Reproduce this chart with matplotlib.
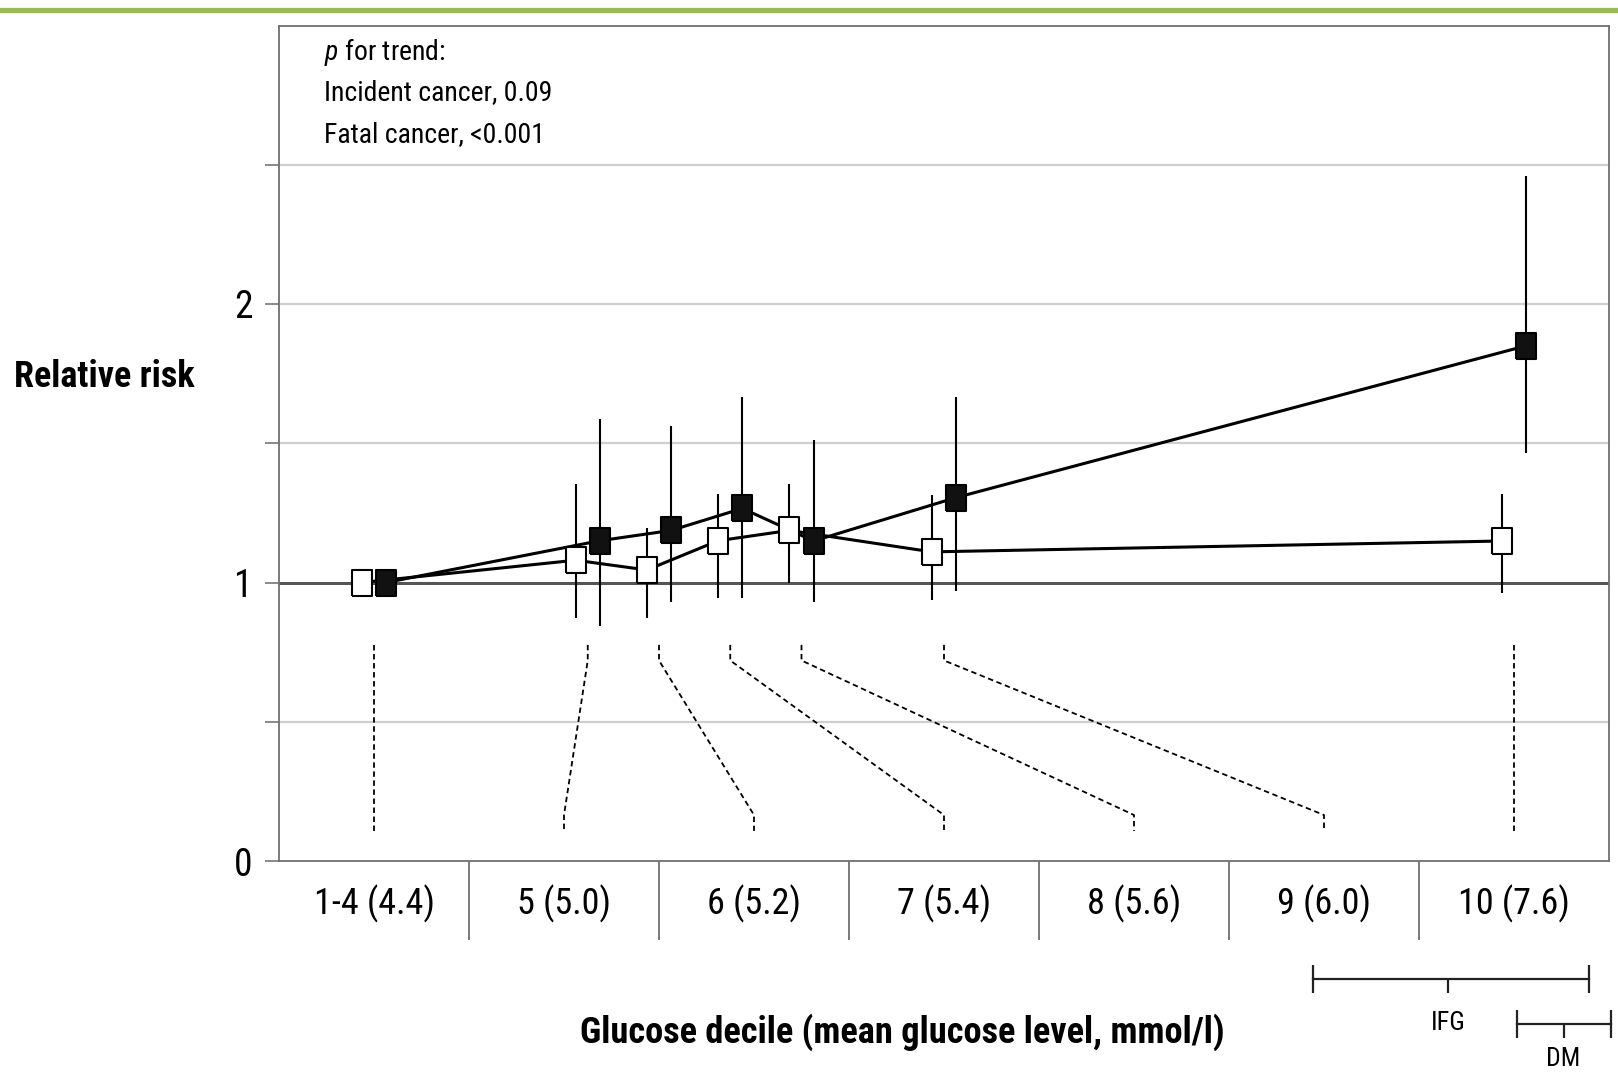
import numpy as np
import matplotlib.pyplot as plt
from matplotlib.lines import Line2D

plt.rcParams['font.family'] = ['Roboto Condensed', 'DejaVu Sans']
plt.rcParams['mathtext.fontset'] = 'custom'
plt.rcParams['mathtext.rm'] = 'Roboto Condensed'
plt.rcParams['mathtext.it'] = 'Roboto Condensed:italic'

# Data
categories = ['1-4 (4.4)', '5 (5.0)', '6 (5.2)', '7 (5.4)', '8 (5.6)', '9 (6.0)', '10 (7.6)']
glucose = np.array([4.4, 5.0, 5.2, 5.4, 5.6, 6.0, 7.6])

incident_rr = np.array([1.00, 1.08, 1.045, 1.15, 1.187, 1.11, 1.149])
incident_lo = np.array([np.nan, 0.871, 0.871, 0.943, 1.00, 0.937, 0.961])
incident_hi = np.array([np.nan, 1.354, 1.195, 1.317, 1.353, 1.314, 1.317])

fatal_rr = np.array([1.00, 1.150, 1.187, 1.266, 1.149, 1.305, 1.850])
fatal_lo = np.array([np.nan, 0.844, 0.931, 0.943, 0.931, 0.971, 1.464])
fatal_hi = np.array([np.nan, 1.586, 1.562, 1.665, 1.512, 1.665, 2.460])

# category cells below the axis
cell_w = (glucose[-1] - glucose[0]) / (len(categories) - 1)
cat_x = glucose[0] + cell_w * np.arange(len(categories))
cell_edges = cat_x[:-1] + cell_w / 2

off = 0.034
rect = [(-1, -1.3), (1, -1.3), (1, 1.3), (-1, 1.3), (-1, -1.3)]

fig = plt.figure(figsize=(16.18, 10.72), dpi=100)
ax = fig.add_axes([279 / 1618, 1 - 861 / 1072, 1330 / 1618, 835.5 / 1072])
ax.set_xlim(glucose[0] - cell_w / 2, glucose[-1] + cell_w / 2)
ax.set_ylim(0, 3)

for s in ax.spines.values():
    s.set_color('#707070')
    s.set_linewidth(1.3)

ax.set_xticks([])
ax.set_yticks([0, 0.5, 1, 1.5, 2, 2.5])
ax.set_yticklabels(['0', '', '1', '', '2', ''])
ax.tick_params(axis='y', length=10, width=1.3, color='#808080', pad=9, labelsize=27)

for yg in [0.5, 1.5, 2, 2.5]:
    ax.axhline(yg, color='#cfcfcf', lw=1.6, zorder=0)
ax.axhline(1, color='#555555', lw=2.2, zorder=1)

# connector lines from glucose positions to decile cells
for g, c in zip(glucose, cat_x):
    ax.plot([g, g, c, c], [0.776, 0.72, 0.165, 0.108], color='black', lw=1.3,
            ls=(0, (3, 2)), zorder=1)

# incident cancer (open squares)
xi = glucose - off
ax.plot(xi, incident_rr, color='black', lw=2.2, zorder=3)
ax.vlines(xi[1:], incident_lo[1:], incident_hi[1:], color='black', lw=1.5, zorder=2)
ax.plot(xi, incident_rr, ls='none', marker=rect, ms=18.5, mfc='white', mec='black',
        mew=1.5, zorder=4)

# fatal cancer (filled squares)
xf = glucose + off
ax.plot(xf, fatal_rr, color='black', lw=2.2, zorder=3)
ax.vlines(xf[1:], fatal_lo[1:], fatal_hi[1:], color='black', lw=1.5, zorder=2)
ax.plot(xf, fatal_rr, ls='none', marker=rect, ms=18.5, mfc='#111111', mec='black',
        mew=1.5, zorder=4)

# decile labels and dividers
for c, lab in zip(cat_x, categories):
    ax.text(c, -0.153, lab, ha='center', va='center', fontsize=26, clip_on=False)
ax.vlines(cell_edges, -0.284, 0, color='#707070', lw=1.3, clip_on=False)

# IFG / DM ranges
ax.plot([7.037, 7.810], [-0.4225, -0.4225], color='#222222', lw=1.6, clip_on=False)
ax.vlines([7.037, 7.810], -0.4725, -0.3725, color='#222222', lw=1.6, clip_on=False)
ax.vlines([7.416], -0.4725, -0.4225, color='#222222', lw=1.6, clip_on=False)
ax.text(7.416, -0.58, 'IFG', ha='center', va='center', fontsize=19, clip_on=False)
ax.plot([7.608, 7.872], [-0.584, -0.584], color='#222222', lw=1.6, clip_on=False)
ax.vlines([7.608, 7.872], -0.634, -0.534, color='#222222', lw=1.6, clip_on=False)
ax.vlines([7.739], -0.634, -0.584, color='#222222', lw=1.6, clip_on=False)
ax.text(7.739, -0.711, 'DM', ha='center', va='center', fontsize=18.5, clip_on=False)

# p for trend text
fig.text(324 / 1618, 1 - 51.6 / 1072, '$p$ for trend:', fontsize=20, va='center')
fig.text(324 / 1618, 1 - 92.9 / 1072, 'Incident cancer, 0.09', fontsize=20, va='center')
fig.text(324 / 1618, 1 - 134.2 / 1072, 'Fatal cancer, <0.001', fontsize=20, va='center')

fig.text(14.5 / 1618, 1 - 376.7 / 1072, 'Relative risk', fontsize=26, weight='bold',
         va='center', ha='left')
fig.text(902 / 1618, 1 - 1032 / 1072, 'Glucose decile (mean glucose level, mmol/l)',
         fontsize=26.2, weight='bold', va='center', ha='center')

# green rule at the top of the slide
fig.add_artist(Line2D([0, 1], [1 - 10 / 1072, 1 - 10 / 1072], transform=fig.transFigure,
                      color='#9bbb59', lw=3.8))

fig.savefig('out.png', dpi=100)
